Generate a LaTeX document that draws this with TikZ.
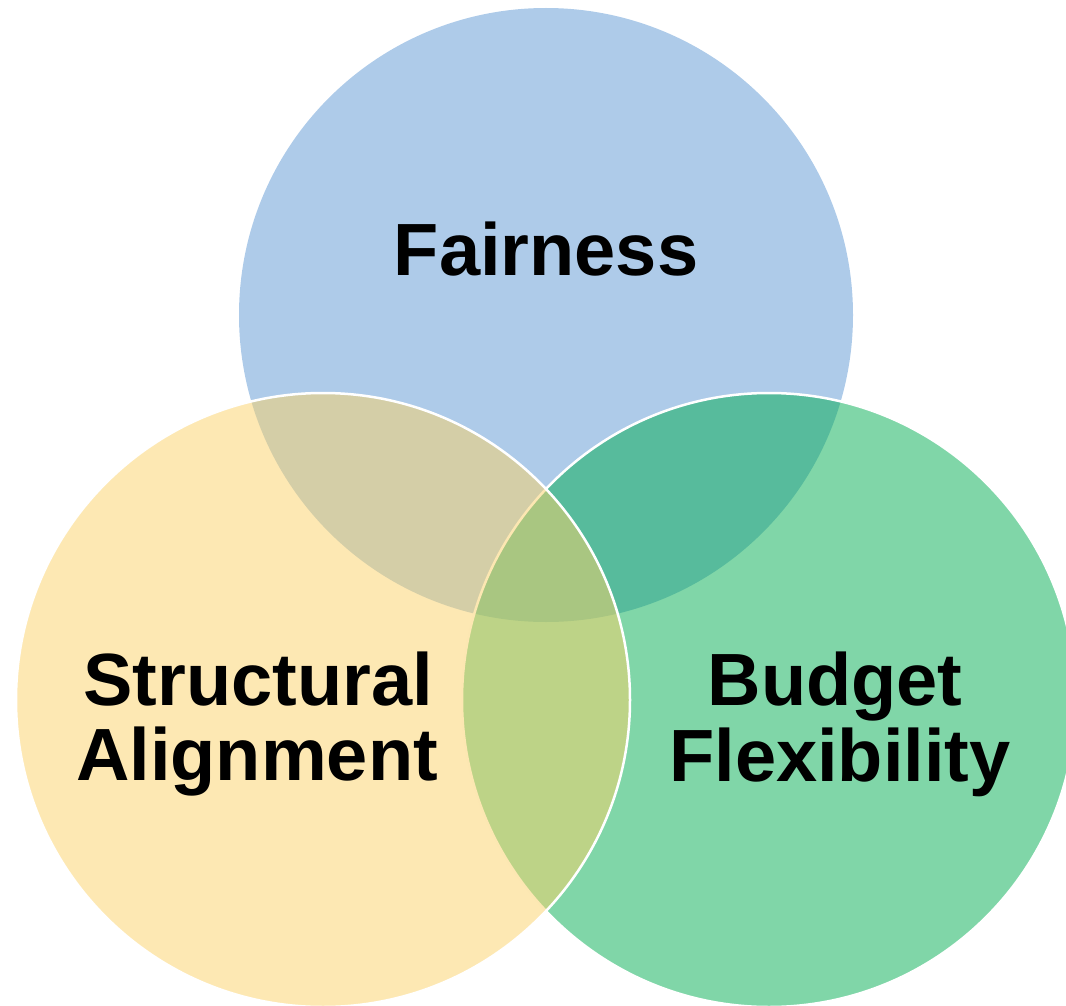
\documentclass[tikz,border=0pt]{standalone}
\usepackage{fontspec}
\setmainfont{Liberation Sans}
\definecolor{cblue}{RGB}{174,203,233}
\definecolor{cgreen}{RGB}{1,173,81}
\definecolor{cyellow}{RGB}{251,209,103}
\tikzset{
  lbl/.style={anchor=base, inner sep=0pt, font=\fontsize{74}{74}\selectfont\bfseries, text=black},
  setcircle/.style={circle, minimum size=614pt, inner sep=0pt, outer sep=0pt}
}
\begin{document}
\begin{tikzpicture}[x=1pt,y=-1pt]
\useasboundingbox (0,0) rectangle (1066,1006);
\node[setcircle, fill=cblue] (top) at (546,315) {};
\node[setcircle, fill=cgreen, fill opacity=0.5, draw=white, line width=2.5pt] (br) at (769,700) {};
\node[setcircle, fill=cyellow, fill opacity=0.5, draw=white, line width=2.5pt] (bl) at (323,700) {};
\node[lbl] (fair) at (546,275) {Fairness};
\node[lbl] (struct) at (258,705) {Structural};
\node[lbl] (align) at (257,780) {Alignment};
\node[lbl] (budget) at (835,705) {Budget};
\node[lbl] (flex) at (840,781) {Flexibility};
\end{tikzpicture}
\end{document}
